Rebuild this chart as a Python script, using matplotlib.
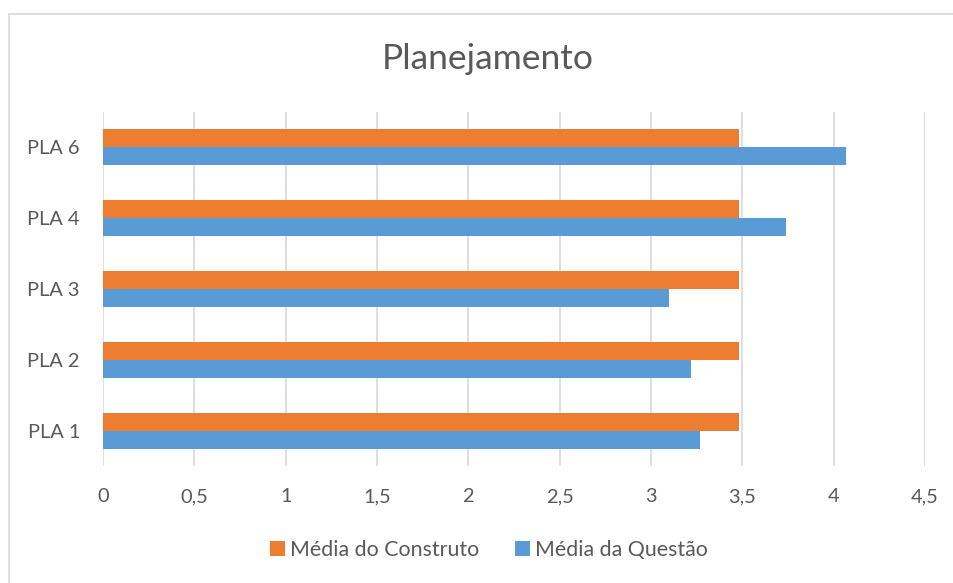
import matplotlib.pyplot as plt
from matplotlib.patches import Rectangle
import numpy as np

categories = ["PLA 1", "PLA 2", "PLA 3", "PLA 4", "PLA 6"]
media_construto = [3.48, 3.48, 3.48, 3.48, 3.48]
media_questao = [3.27, 3.22, 3.10, 3.74, 4.07]
x_ticks = [0, 0.5, 1, 1.5, 2, 2.5, 3, 3.5, 4, 4.5]
x_tick_labels = ["0", "0,5", "1", "1,5", "2", "2,5", "3", "3,5", "4", "4,5"]

ORANGE = "#ED7D31"
BLUE = "#5B9BD5"
TEXT = "#595959"
GRID = "#D9D9D9"

plt.rcParams['font.family'] = ['Lato', 'DejaVu Sans']

fig = plt.figure(figsize=(9.54, 5.83), dpi=100)

# chart frame, open to the right and bottom
fig.patches.append(Rectangle((9.5 / 954, -0.05), 1.0, 1 - 14 / 583 + 0.05,
                             transform=fig.transFigure, fill=False,
                             edgecolor=GRID, linewidth=1.2))

ax = fig.add_axes([103 / 954, 1 - 466 / 583, (925 - 103) / 954, (466 - 112) / 583])

y = np.arange(len(categories))
h = 0.254
ax.barh(y + h / 2, media_construto, height=h, color=ORANGE, label="Média do Construto", zorder=3)
ax.barh(y - h / 2, media_questao, height=h, color=BLUE, label="Média da Questão", zorder=3)

ax.set_xlim(0, 4.5)
ax.set_ylim(-0.5, len(categories) - 0.5)
ax.set_xticks(x_ticks)
ax.set_xticklabels(x_tick_labels)
ax.set_yticks(y)
ax.set_yticklabels(categories)
ax.tick_params(axis='both', length=0, labelsize=14.4, colors=TEXT)
ax.tick_params(axis='x', pad=16)
ax.tick_params(axis='y', pad=16.6)
for spine in ax.spines.values():
    spine.set_visible(False)
ax.grid(axis='x', color=GRID, linewidth=1.2, zorder=0)
ax.set_axisbelow(True)

fig.text(488 / 954, 1 - 59 / 583, "Planejamento", ha='center', va='center',
         fontsize=25.5, color=TEXT)

handles, labels = ax.get_legend_handles_labels()
fig.legend(handles, labels, loc='center', bbox_to_anchor=(489 / 954, 1 - 550 / 583),
           ncol=2, frameon=False, fontsize=15.4, labelcolor=TEXT,
           handlelength=0.7, handleheight=0.7, handletextpad=0.23, columnspacing=1.7,
           borderpad=0, borderaxespad=0)

fig.savefig("out.png", dpi=100)
